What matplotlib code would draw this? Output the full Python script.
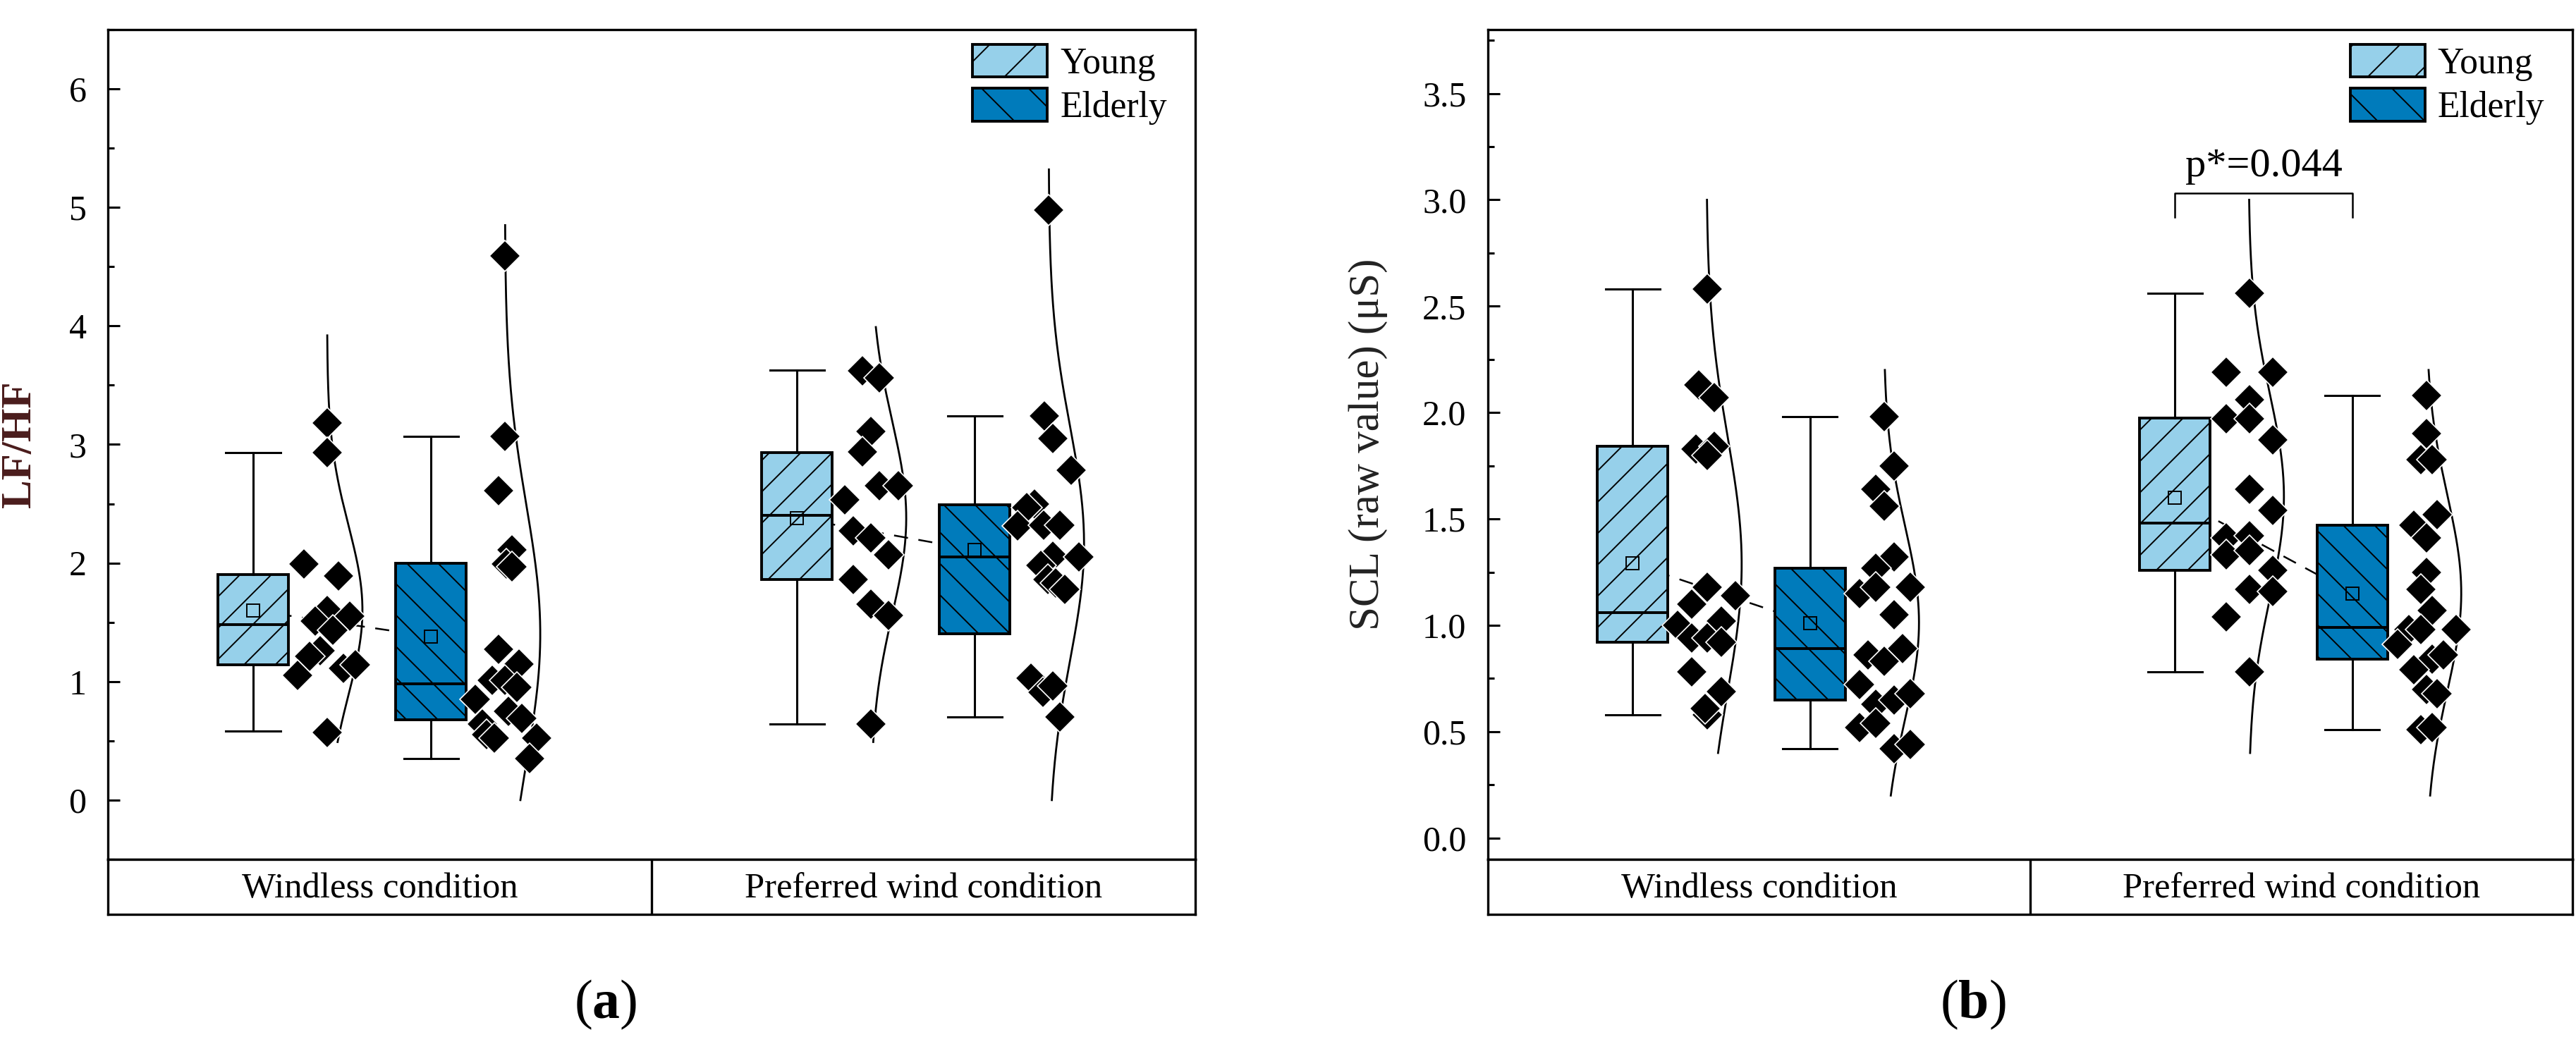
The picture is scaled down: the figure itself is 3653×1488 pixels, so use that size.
import numpy as np
import matplotlib
matplotlib.use("Agg")
import matplotlib.pyplot as plt
from matplotlib.patches import Patch

# ---- data ------------------------------------------------------------------
conditions = ["Windless condition", "Preferred wind condition"]
groups = ["Young", "Elderly"]

# box statistics: whislo, q1, med, q3, whishi, mean
lf_box_young = [[0.58, 1.14, 1.48, 1.90, 2.93, 1.60], [0.64, 1.86, 2.40, 2.93, 3.63, 2.38]]
lf_box_elderly = [[0.35, 0.68, 0.98, 2.00, 3.07, 1.38], [0.70, 1.40, 2.05, 2.49, 3.24, 2.11]]
scl_box_young = [[0.58, 0.92, 1.06, 1.84, 2.58, 1.29], [0.78, 1.26, 1.48, 1.975, 2.56, 1.60]]
scl_box_elderly = [[0.42, 0.65, 0.89, 1.27, 1.98, 1.01], [0.51, 0.84, 0.99, 1.47, 2.08, 1.15]]

# raw points (values) and their horizontal jitter
lf_young_windless = [3.18, 2.93, 1.99, 1.89, 1.60, 1.51, 1.55, 1.43, 1.26, 1.21, 1.11, 1.14, 1.05, 0.57]
lf_young_windless_jit = [0.136, 0.136, 0.093, 0.157, 0.136, 0.114, 0.178, 0.147, 0.123, 0.104, 0.166, 0.188, 0.082, 0.136]
lf_elderly_windless = [4.59, 3.07, 2.61, 2.11, 1.99, 1.97, 1.27, 1.15, 1.01, 1.01, 0.95, 0.85, 0.75, 0.69,
                       0.64, 0.55, 0.52, 0.52, 0.35]
lf_elderly_windless_jit = [0.136, 0.136, 0.124, 0.149, 0.139, 0.149, 0.124, 0.162, 0.113, 0.136, 0.158, 0.081,
                           0.143, 0.167, 0.094, 0.102, 0.117, 0.195, 0.182]
lf_young_pref = [3.62, 3.56, 3.11, 2.94, 2.65, 2.65, 2.53, 2.27, 2.21, 2.07, 1.86, 1.65, 1.56, 0.64]
lf_young_pref_jit = [0.121, 0.152, 0.136, 0.121, 0.151, 0.186, 0.088, 0.104, 0.136, 0.169, 0.104, 0.136, 0.169, 0.136]
lf_elderly_pref = [4.98, 3.24, 3.05, 2.78, 2.50, 2.47, 2.31, 2.32, 2.32, 2.06, 2.05, 1.98, 1.86, 1.83, 1.78,
                   1.03, 0.91, 0.96, 0.70]
lf_elderly_pref_jit = [0.136, 0.128, 0.143, 0.177, 0.110, 0.095, 0.079, 0.127, 0.157, 0.143, 0.192, 0.121,
                       0.134, 0.149, 0.166, 0.104, 0.125, 0.143, 0.157]

scl_young_windless = [2.58, 2.13, 2.07, 1.83, 1.84, 1.80, 1.18, 1.10, 1.14, 1.00, 1.02, 0.94, 0.94, 0.92,
                      0.78, 0.69, 0.58, 0.61]
scl_young_windless_jit = [0.137, 0.122, 0.150, 0.117, 0.150, 0.137, 0.137, 0.109, 0.189, 0.083, 0.163, 0.109,
                          0.137, 0.163, 0.109, 0.163, 0.137, 0.133]
scl_elderly_windless = [1.98, 1.75, 1.64, 1.56, 1.32, 1.27, 1.15, 1.18, 1.18, 1.05, 0.89, 0.86, 0.83, 0.72,
                        0.63, 0.65, 0.68, 0.52, 0.54, 0.42, 0.44]
scl_elderly_windless_jit = [0.137, 0.155, 0.121, 0.137, 0.155, 0.121, 0.091, 0.121, 0.185, 0.155, 0.171, 0.107,
                            0.137, 0.091, 0.121, 0.155, 0.185, 0.091, 0.121, 0.155, 0.185]
scl_young_pref = [2.56, 2.19, 2.19, 2.06, 1.97, 1.97, 1.87, 1.64, 1.54, 1.41, 1.42, 1.33, 1.35, 1.26, 1.17,
                  1.16, 1.04, 0.78]
scl_young_pref_jit = [0.137, 0.094, 0.181, 0.137, 0.094, 0.137, 0.181, 0.137, 0.181, 0.094, 0.137, 0.094,
                      0.137, 0.181, 0.137, 0.181, 0.094, 0.137]
scl_elderly_pref = [2.08, 1.90, 1.78, 1.78, 1.52, 1.47, 1.41, 1.25, 1.17, 1.07, 0.98, 0.98, 0.98, 0.91, 0.84,
                    0.86, 0.79, 0.70, 0.68, 0.51, 0.52]
scl_elderly_pref_jit = [0.137, 0.137, 0.126, 0.148, 0.156, 0.113, 0.137, 0.137, 0.126, 0.148, 0.104, 0.126,
                        0.191, 0.083, 0.148, 0.168, 0.113, 0.137, 0.156, 0.126, 0.148]

# y-range over which each normal curve is drawn
lf_curve_young = [(0.49, 3.92), (0.49, 3.99)]
lf_curve_elderly = [(0.0, 4.85), (0.0, 5.32)]
scl_curve_young = [(0.4, 3.0), (0.4, 3.0)]
scl_curve_elderly = [(0.2, 2.2), (0.2, 2.2)]

YOUNG_COLOR = "#96d0ea"
ELDERLY_COLOR = "#007bbb"
DPI = 400


def draw_group(ax, pos, stats, pts, jit, crange, color, hatch):
    whislo, q1, med, q3, whishi, mean = stats
    st = dict(whislo=whislo, q1=q1, med=med, q3=q3, whishi=whishi, mean=mean, fliers=[])
    ax.bxp([st], positions=[pos], widths=0.13, capwidths=0.10, patch_artist=True, showmeans=True,
           showfliers=False,
           boxprops=dict(facecolor=color, edgecolor="black", linewidth=0.7, hatch=hatch),
           medianprops=dict(color="black", linewidth=0.7),
           whiskerprops=dict(color="black", linewidth=0.55),
           capprops=dict(color="black", linewidth=0.55),
           meanprops=dict(marker="s", markersize=3.2, markerfacecolor="none",
                          markeredgecolor="black", markeredgewidth=0.35),
           zorder=2)
    # normal distribution curve beside the points
    pts = np.array(pts)
    m, s = pts.mean(), pts.std(ddof=1)
    yy = np.linspace(crange[0], crange[1], 200)
    xx = pos + 0.136 + 0.065 * np.exp(-0.5 * ((yy - m) / s) ** 2)
    ax.plot(xx, yy, color="black", linewidth=0.5, zorder=3)
    ax.plot(pos + np.array(jit), pts, linestyle="none", marker="D", markersize=5.6,
            markerfacecolor="black", markeredgecolor="white", markeredgewidth=0.3, zorder=4)


def make_panel(fig, left, width, ylim, major, minor, ylabel, ylabel_x, ylabel_color, ylabel_weight,
               box_y, box_e, data_y, data_e, curve_y, curve_e):
    ax = fig.add_axes([left, 0.1808, width, 0.7910])
    band = fig.add_axes([left, 0.1284, width, 0.0524])
    centers = [1, 2]
    for i, c in enumerate(centers):
        py, pe = c - 0.233, c + 0.094
        draw_group(ax, py, box_y[i], data_y[i][0], data_y[i][1], curve_y[i], YOUNG_COLOR, "///")
        draw_group(ax, pe, box_e[i], data_e[i][0], data_e[i][1], curve_e[i], ELDERLY_COLOR, "\\\\\\")
        ax.plot([py, pe], [box_y[i][5], box_e[i][5]], color="black", linewidth=0.45,
                linestyle=(0, (8, 6)), zorder=1.5)
    ax.set_xlim(0.5, 2.5)
    ax.set_ylim(*ylim)
    ax.set_xticks([])
    ax.set_yticks(major)
    ax.set_yticks(minor, minor=True)
    ax.tick_params(axis="y", which="major", direction="in", length=3, width=0.55, pad=5.5, labelsize=9)
    ax.tick_params(axis="y", which="minor", direction="in", length=1.6, width=0.55)
    for sp in ax.spines.values():
        sp.set_linewidth(0.6)
    ax.set_ylabel(ylabel, fontsize=11, color=ylabel_color, fontweight=ylabel_weight)
    ax.yaxis.set_label_coords(ylabel_x, 0.5)

    band.set_xlim(0.5, 2.5)
    band.set_ylim(0, 1)
    band.set_xticks([])
    band.set_yticks([])
    for sp in band.spines.values():
        sp.set_linewidth(0.6)
    band.axvline(1.5, color="black", linewidth=0.6)
    for c, name in zip(centers, conditions):
        band.text(c, 0.47, name, ha="center", va="center", fontsize=9.15)

    handles = [Patch(facecolor=YOUNG_COLOR, edgecolor="black", hatch="//", linewidth=0.7),
               Patch(facecolor=ELDERLY_COLOR, edgecolor="black", hatch="\\\\", linewidth=0.7)]
    ax.legend(handles, groups, loc="upper left", bbox_to_anchor=(0.795, 0.982), frameon=False,
              fontsize=9.3, handlelength=2.05, handleheight=1.0, labelspacing=0.2, handletextpad=0.35,
              borderpad=0, borderaxespad=0)
    return ax


def main():
    plt.rcParams["font.family"] = ["Liberation Serif", "DejaVu Serif"]
    plt.rcParams["mathtext.fontset"] = "custom"
    plt.rcParams["mathtext.rm"] = "Liberation Serif"
    plt.rcParams["mathtext.bf"] = "Liberation Serif:bold"
    plt.rcParams["hatch.linewidth"] = 0.35

    fig = plt.figure(figsize=(3653 / DPI, 1488 / DPI), dpi=DPI)

    make_panel(fig, 0.0419, 0.4222, (-0.5, 6.5), np.arange(0, 7, 1), np.arange(-0.5, 6.6, 0.5),
               "LF/HF", -0.063, "#4a1c1c", "bold",
               lf_box_young, lf_box_elderly,
               [(lf_young_windless, lf_young_windless_jit), (lf_young_pref, lf_young_pref_jit)],
               [(lf_elderly_windless, lf_elderly_windless_jit), (lf_elderly_pref, lf_elderly_pref_jit)],
               lf_curve_young, lf_curve_elderly)

    axb = make_panel(fig, 0.5776, 0.4210, (-0.1, 3.8), np.arange(0, 3.6, 0.5), np.arange(0, 3.8, 0.25),
                     "SCL (raw value) (μS)", -0.092, "#222222", "normal",
                     scl_box_young, scl_box_elderly,
                     [(scl_young_windless, scl_young_windless_jit), (scl_young_pref, scl_young_pref_jit)],
                     [(scl_elderly_windless, scl_elderly_windless_jit), (scl_elderly_pref, scl_elderly_pref_jit)],
                     scl_curve_young, scl_curve_elderly)
    axb.yaxis.set_major_formatter(matplotlib.ticker.FormatStrFormatter("%.1f"))

    # significance bracket between the two preferred-wind boxes
    x1, x2 = 2 - 0.233, 2 + 0.094
    axb.plot([x1, x1, x2, x2], [2.92, 3.03, 3.03, 2.92], color="black", linewidth=0.45)
    axb.text((x1 + x2) / 2, 3.07, "p*=0.044", ha="center", va="bottom", fontsize=10.5)

    fig.text(0.235, 0.042, r"($\mathbf{a}$)", ha="center", va="center", fontsize=14)
    fig.text(0.766, 0.042, r"($\mathbf{b}$)", ha="center", va="center", fontsize=14)

    fig.savefig("out.png", dpi=DPI)


if __name__ == "__main__":
    main()
